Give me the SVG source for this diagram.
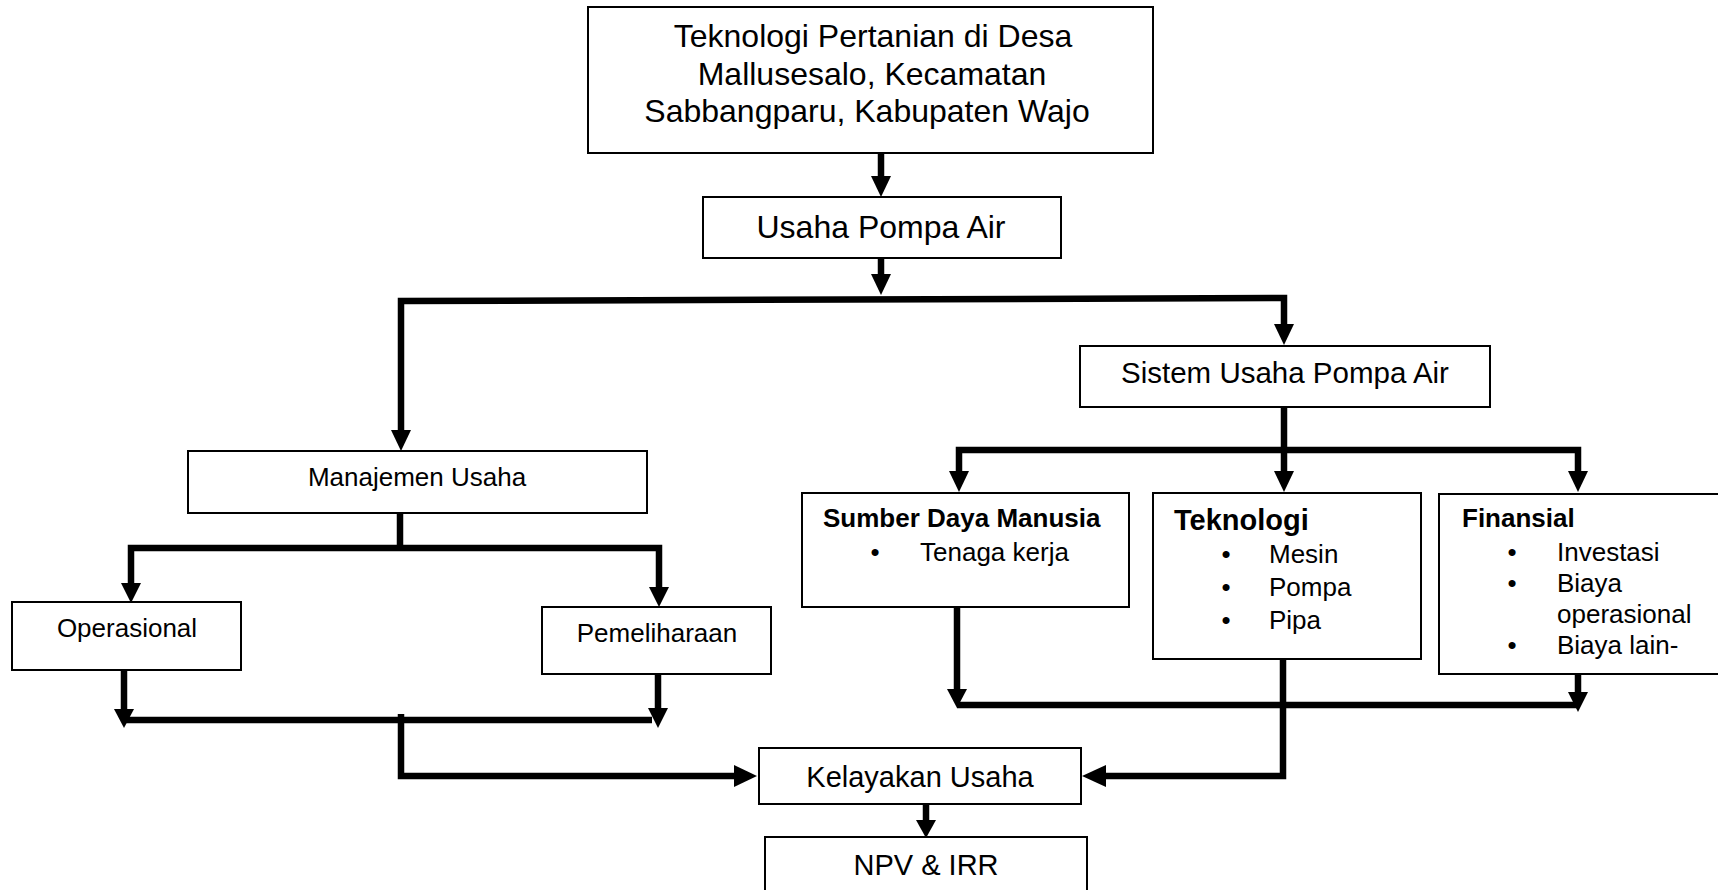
<svg xmlns="http://www.w3.org/2000/svg" width="1718" height="890" viewBox="0 0 1718 890">
<style>
.box{fill:#fff;stroke:#000;stroke-width:2}
.t{font-family:"Liberation Sans",Arial,sans-serif;fill:#000}
.c{text-anchor:middle}
.b{font-weight:bold}
.ln{fill:none;stroke:#000;stroke-width:6.5;stroke-linejoin:miter;stroke-linecap:butt}
.ah{fill:#000;stroke:none}
</style>
<rect width="1718" height="890" fill="#fff"/>
<g id="connectors">
  <path class="ln" d="M881,153 V178"/>
  <polygon class="ah" points="871,176 891,176 881,197"/>
  <path class="ln" d="M881,258 V276"/>
  <polygon class="ah" points="871,274 891,274 881,295"/>
  <path class="ln" d="M401,432 V301 L1284,298 V326"/>
  <polygon class="ah" points="391,430 411,430 401,451"/>
  <polygon class="ah" points="1274,324 1294,324 1284,345"/>
  <path class="ln" d="M1284,407 V473"/>
  <path class="ln" d="M959,473 V450 H1578 V473"/>
  <polygon class="ah" points="949,471 969,471 959,492"/>
  <polygon class="ah" points="1274,471 1294,471 1284,492"/>
  <polygon class="ah" points="1568,471 1588,471 1578,492"/>
  <path class="ln" d="M400,513 V548"/>
  <path class="ln" d="M131,584 V548 H659 V588"/>
  <polygon class="ah" points="121,583 141,583 131,603"/>
  <polygon class="ah" points="649,587 669,587 659,607"/>
  <path class="ln" d="M124,670 V711"/>
  <path class="ln" d="M658,674 V709"/>
  <path class="ln" d="M124,720 H652"/>
  <polygon class="ah" points="114,709 134,709 124,728"/>
  <polygon class="ah" points="648,708 668,708 658,728"/>
  <path class="ln" d="M401,714 V776 H736"/>
  <polygon class="ah" points="734,765 734,787 757,776"/>
  <path class="ln" d="M957,607 V691"/>
  <path class="ln" d="M1578,675 V694"/>
  <path class="ln" d="M957,705 H1578"/>
  <polygon class="ah" points="947,689 967,689 957,708"/>
  <polygon class="ah" points="1568,692 1588,692 1578,712"/>
  <path class="ln" d="M1283,659 V776 H1104"/>
  <polygon class="ah" points="1106,765 1106,787 1082,776"/>
  <path class="ln" d="M926,804 V822"/>
  <polygon class="ah" points="916,820 936,820 926,838"/>
</g>
<g id="node-top">
  <rect class="box" x="588" y="7" width="565" height="146"/>
  <text class="t c" font-size="32" x="873" y="47">Teknologi Pertanian di Desa</text>
  <text class="t c" font-size="32" x="872" y="85">Mallusesalo, Kecamatan</text>
  <text class="t c" font-size="32" x="867" y="122">Sabbangparu, Kabupaten Wajo</text>
</g>
<g id="node-usaha">
  <rect class="box" x="703" y="197" width="358" height="61"/>
  <text class="t c" font-size="32" x="881" y="238">Usaha Pompa Air</text>
</g>
<g id="node-sistem">
  <rect class="box" x="1080" y="346" width="410" height="61"/>
  <text class="t c" font-size="29.5" x="1285" y="383">Sistem Usaha Pompa Air</text>
</g>
<g id="node-manajemen">
  <rect class="box" x="188" y="451" width="459" height="62"/>
  <text class="t c" font-size="26" x="417" y="486">Manajemen Usaha</text>
</g>
<g id="node-sdm">
  <rect class="box" x="802" y="493" width="327" height="114"/>
  <text class="t b" font-size="26" x="823" y="527">Sumber Daya Manusia</text>
  <text class="t c" font-size="26" x="875" y="561">•</text>
  <text class="t" font-size="26" x="920" y="561">Tenaga kerja</text>
</g>
<g id="node-teknologi">
  <rect class="box" x="1153" y="493" width="268" height="166"/>
  <text class="t b" font-size="29" x="1174" y="530">Teknologi</text>
  <text class="t c" font-size="26" x="1226" y="563">•</text>
  <text class="t" font-size="26" x="1269" y="563">Mesin</text>
  <text class="t c" font-size="26" x="1226" y="596">•</text>
  <text class="t" font-size="26" x="1269" y="596">Pompa</text>
  <text class="t c" font-size="26" x="1226" y="629">•</text>
  <text class="t" font-size="26" x="1269" y="629">Pipa</text>
</g>
<g id="node-finansial">
  <rect class="box" x="1439" y="494" width="290" height="180"/>
  <text class="t b" font-size="26" x="1462" y="527">Finansial</text>
  <text class="t c" font-size="26" x="1512" y="561">•</text>
  <text class="t" font-size="26" x="1557" y="561">Investasi</text>
  <text class="t c" font-size="26" x="1512" y="592">•</text>
  <text class="t" font-size="26" x="1557" y="592">Biaya</text>
  <text class="t" font-size="26" x="1557" y="623">operasional</text>
  <text class="t c" font-size="26" x="1512" y="654">•</text>
  <text class="t" font-size="26" x="1557" y="654">Biaya lain-</text>
</g>
<g id="node-operasional">
  <rect class="box" x="12" y="602" width="229" height="68"/>
  <text class="t c" font-size="26" x="127" y="637">Operasional</text>
</g>
<g id="node-pemeliharaan">
  <rect class="box" x="542" y="607" width="229" height="67"/>
  <text class="t c" font-size="26" x="657" y="642">Pemeliharaan</text>
</g>
<g id="node-kelayakan">
  <rect class="box" x="759" y="748" width="322" height="56"/>
  <text class="t c" font-size="29" x="920" y="787">Kelayakan Usaha</text>
</g>
<g id="node-npv">
  <rect class="box" x="765" y="837" width="322" height="70"/>
  <text class="t c" font-size="29" x="926" y="875">NPV &amp; IRR</text>
</g>
</svg>
